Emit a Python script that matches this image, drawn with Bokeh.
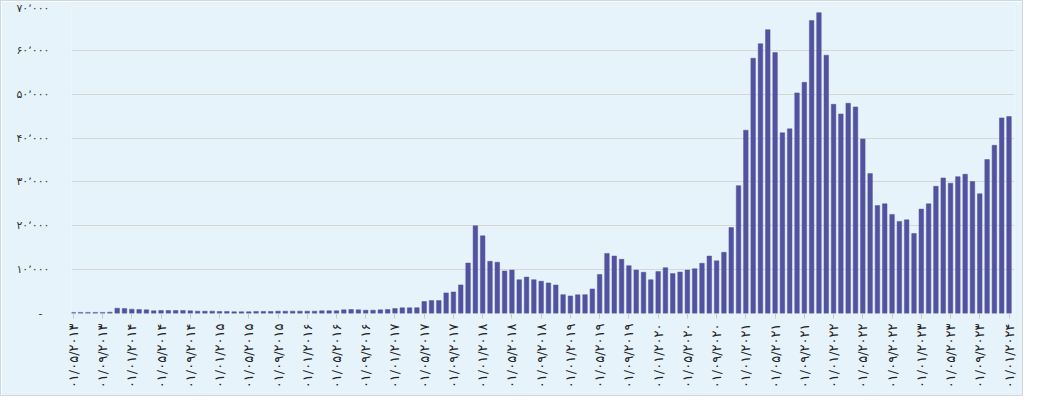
import math
from bokeh.plotting import figure
from bokeh.models import Range1d, FixedTicker, ColumnDataSource
from bokeh.embed import file_html
from bokeh.resources import INLINE

# monthly values, 01/05/2013 .. 01/01/2024
values = [
    250, 250, 250, 250, 250, 300, 1210, 1140, 990, 910,
    830, 610, 680, 680, 680, 680, 610, 530, 530, 530,
    450, 450, 380, 380, 380, 450, 450, 450, 530, 530,
    530, 530, 530, 530, 610, 610, 610, 830, 910, 830,
    760, 760, 830, 910, 1140, 1290, 1290, 1330, 2730, 2950,
    2950, 4700, 4920, 6520, 11500, 20000, 17700, 11900, 11700, 9700,
    9900, 7700, 8300, 7700, 7350, 6970, 6500, 4300, 4000, 4250,
    4300, 5600, 8900, 13700, 13100, 12350, 10900, 9900, 9400, 7700,
    9550, 10450, 9100, 9450, 9900, 10200, 11450, 13100, 12000, 13950,
    19600, 29150, 41800, 58200, 61500, 64700, 59500, 41200, 42100, 50300,
    52700, 66800, 68600, 58900, 47700, 45500, 47950, 47100, 39800, 31900,
    24600, 25000, 22600, 21000, 21350, 18250, 23800, 25000, 29000, 30900,
    29700, 31200, 31750, 30100, 27300, 35100, 38350, 44600, 44900,
]

x_tick_labels = [
    "۰۱/۰۵/۲۰۱۳", "۰۱/۰۹/۲۰۱۳",
    "۰۱/۰۱/۲۰۱۴", "۰۱/۰۵/۲۰۱۴", "۰۱/۰۹/۲۰۱۴",
    "۰۱/۰۱/۲۰۱۵", "۰۱/۰۵/۲۰۱۵", "۰۱/۰۹/۲۰۱۵",
    "۰۱/۰۱/۲۰۱۶", "۰۱/۰۵/۲۰۱۶", "۰۱/۰۹/۲۰۱۶",
    "۰۱/۰۱/۲۰۱۷", "۰۱/۰۵/۲۰۱۷", "۰۱/۰۹/۲۰۱۷",
    "۰۱/۰۱/۲۰۱۸", "۰۱/۰۵/۲۰۱۸", "۰۱/۰۹/۲۰۱۸",
    "۰۱/۰۱/۲۰۱۹", "۰۱/۰۵/۲۰۱۹", "۰۱/۰۹/۲۰۱۹",
    "۰۱/۰۱/۲۰۲۰", "۰۱/۰۵/۲۰۲۰", "۰۱/۰۹/۲۰۲۰",
    "۰۱/۰۱/۲۰۲۱", "۰۱/۰۵/۲۰۲۱", "۰۱/۰۹/۲۰۲۱",
    "۰۱/۰۱/۲۰۲۲", "۰۱/۰۵/۲۰۲۲", "۰۱/۰۹/۲۰۲۲",
    "۰۱/۰۱/۲۰۲۳", "۰۱/۰۵/۲۰۲۳", "۰۱/۰۹/۲۰۲۳",
    "۰۱/۰۱/۲۰۲۴",
]

y_ticks = [0, 10000, 20000, 30000, 40000, 50000, 60000, 70000]
y_tick_labels = ["-\u00a0\u00a0", "۱۰٬۰۰۰", "۲۰٬۰۰۰", "۳۰٬۰۰۰", "۴۰٬۰۰۰",
                 "۵۰٬۰۰۰", "۶۰٬۰۰۰", "۷۰٬۰۰۰"]

BG = "#e6f3fa"
BAR = "#52529f"

idx = list(range(len(values)))
src = ColumnDataSource(dict(x=idx, top=values))

p = figure(width=1023, height=396, output_backend="svg", toolbar_location=None,
           x_range=Range1d(-0.25, len(values) - 0.25),
           y_range=Range1d(0, 70000),
           min_border_left=70, min_border_right=10, min_border_top=5,
           min_border_bottom=84)
p.background_fill_color = BG
p.border_fill_color = BG
p.outline_line_color = None
p.styles = {"border": "1px solid #cfd8dc"}

p.vbar(x="x", top="top", width=0.62, bottom=0, source=src,
       fill_color=BAR, line_color=BAR, line_width=0.5)

# y axis
p.yaxis.ticker = FixedTicker(ticks=y_ticks)
p.yaxis.major_label_overrides = {t: l for t, l in zip(y_ticks, y_tick_labels)}
p.yaxis.axis_line_color = None
p.yaxis.major_tick_line_color = None
p.yaxis.minor_tick_line_color = None
p.yaxis.major_tick_out = 0
p.yaxis.major_tick_in = 0
p.yaxis.major_label_standoff = 22
p.yaxis.major_label_text_font = "DejaVu Sans"
p.yaxis.major_label_text_font_size = "11px"
p.yaxis.major_label_text_color = "#333333"

p.ygrid.ticker = FixedTicker(ticks=y_ticks)
p.ygrid.grid_line_color = "#d6d6d6"
p.ygrid.grid_line_width = 1
p.xgrid.visible = False

# x axis
x_ticks = list(range(0, len(values), 4))
p.xaxis.ticker = FixedTicker(ticks=x_ticks)
p.xaxis.major_label_overrides = {t: l for t, l in zip(x_ticks, x_tick_labels)}
p.xaxis.major_label_orientation = math.pi / 2
p.xaxis.axis_line_color = None
p.xaxis.major_tick_line_color = "#c8c8c8"
p.xaxis.major_tick_out = 5
p.xaxis.major_tick_in = 0
p.xaxis.minor_tick_line_color = None
p.xaxis.major_label_standoff = 5
p.xaxis.major_label_text_font = "DejaVu Sans"
p.xaxis.major_label_text_font_size = "13px"
p.xaxis.major_label_text_color = "#222222"

open("out.html", "w").write(file_html(p, INLINE))
